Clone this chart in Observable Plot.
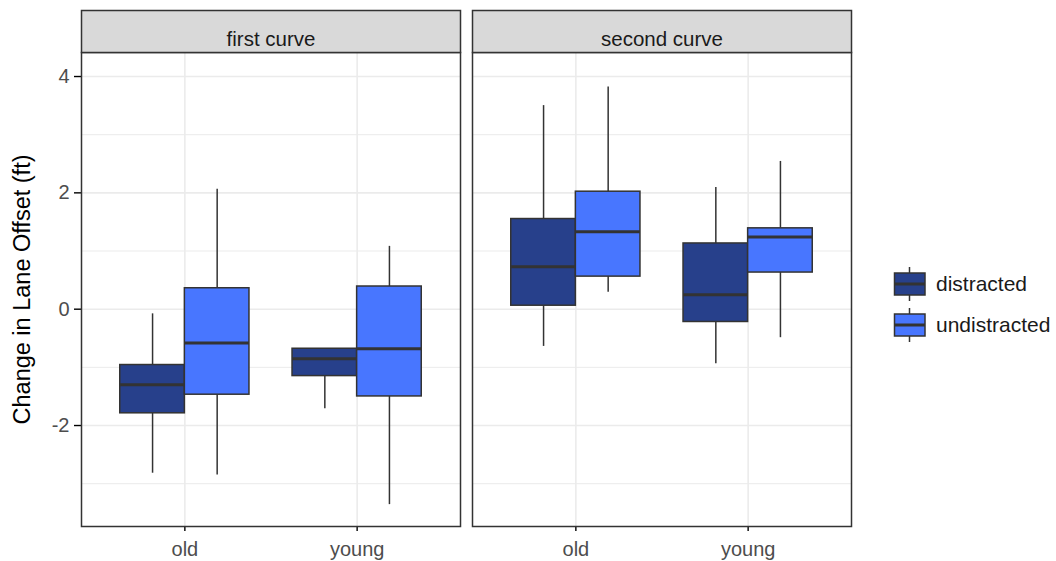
<!DOCTYPE html>
<html><head><meta charset="utf-8">
<script src="https://cdn.jsdelivr.net/npm/d3@7"></script>
<script src="https://cdn.jsdelivr.net/npm/@observablehq/plot@0.6"></script>
<style>
body{margin:0;background:#fff;font-family:"Liberation Sans",Arial,sans-serif;}
#wrap{position:relative;width:1056px;height:561px;overflow:hidden;}
#legend{position:absolute;left:880px;top:255px;}
g[aria-label$="tick label"]{fill:#4d4d4d;}
g[aria-label$="axis tick"]{stroke:#333;stroke-width:1.4;}
</style></head><body><div id="wrap"></div>
<script>
const curves = ["first curve", "second curve"];
const ages = ["old", "young"];
const groups = ["distracted", "undistracted"];
const colors = ["#27408B", "#4876FF"];
const yMajor = [-2, 0, 2, 4];
const yMinor = [-3, -1, 1, 3];
const yTitle = "Change in Lane Offset (ft)";
// order: first curve (old: distracted, undistracted; young: distracted, undistracted), then second curve
const whiskerLow  = [-2.82, -2.85, -1.71, -3.36, -0.64, 0.29, -0.94, -0.49];
const q1          = [-1.79, -1.47, -1.15, -1.50,  0.06, 0.56, -0.22,  0.63];
const median      = [-1.30, -0.58, -0.85, -0.68,  0.73, 1.33,  0.25,  1.24];
const q3          = [-0.96,  0.36, -0.68,  0.39,  1.55, 2.02,  1.13,  1.39];
const whiskerHigh = [-0.08,  2.06, -0.68,  1.08,  3.50, 3.82,  2.09,  2.54];

const dodge = 0.75;
const rows = median.map((m, i) => {
  const ci = i >> 2, ai = (i >> 1) & 1, gi = i & 1;
  const c = ai + 1;
  const x1 = c - dodge / 2 + gi * dodge / 2;
  const x2 = x1 + dodge / 2;
  return {curve: curves[ci], age: ages[ai], group: groups[gi],
    lo: whiskerLow[i], q1: q1[i], med: m, q3: q3[i], hi: whiskerHigh[i],
    x1, x2, xm: (x1 + x2) / 2};
});

const chart = Plot.plot({
  width: 1056, height: 561,
  marginLeft: 80, marginRight: 205, marginTop: 52, marginBottom: 35,
  style: {fontFamily: "Liberation Sans, Arial, sans-serif", fontSize: "20px", background: "#fff", overflow: "visible"},
  fx: {domain: curves, paddingInner: 0.0307, paddingOuter: 0, axis: null, label: null},
  x: {domain: [0.4, 2.6], ticks: [1, 2], tickFormat: d => ages[d - 1], tickSize: 5, tickPadding: 10, label: null},
  y: {domain: [-3.736, 4.413], ticks: yMajor, tickFormat: d => String(d), tickSize: 7, tickPadding: 5, label: null},
  color: {domain: groups, range: colors},
  marks: [
    Plot.ruleY(yMinor, {stroke: "#ebebeb", strokeWidth: 1}),
    Plot.ruleY(yMajor, {stroke: "#ebebeb", strokeWidth: 1.6}),
    Plot.ruleX([1, 2], {stroke: "#ebebeb", strokeWidth: 1.6}),
    Plot.ruleX(rows, {fx: "curve", x: "xm", y1: "q3", y2: "hi", stroke: "#333", strokeWidth: 1.5}),
    Plot.ruleX(rows, {fx: "curve", x: "xm", y1: "lo", y2: "q1", stroke: "#333", strokeWidth: 1.5}),
    Plot.rect(rows, {fx: "curve", x1: "x1", x2: "x2", y1: "q1", y2: "q3", fill: "group", stroke: "#333", strokeWidth: 1.5}),
    Plot.ruleY(rows, {fx: "curve", y: "med", x1: "x1", x2: "x2", stroke: "#333", strokeWidth: 3}),
    Plot.frame({stroke: "#333", strokeWidth: 1.5}),
    Plot.frame({fill: "#d9d9d9", stroke: "#333", strokeWidth: 1.5, insetTop: -42, insetBottom: 474}),
    Plot.text(curves, {fx: d => d, text: d => d, frameAnchor: "top", dy: -21, fontSize: 20.5, fill: "#1a1a1a"}),
    Plot.text([yTitle], {fx: () => curves[0], text: d => d, frameAnchor: "left", textAnchor: "middle", rotate: -90, dx: -59, fontSize: 23.5, fill: "#000"})
  ]
});
const wrap = document.getElementById("wrap");
wrap.appendChild(chart);

// legend
const lg = d3.select(wrap).append("svg").attr("id", "legend").attr("width", 176).attr("height", 100);
groups.forEach((g, i) => {
  const cy = 29 + i * 41;
  const k = lg.append("g");
  k.append("line").attr("x1", 29.5).attr("x2", 29.5).attr("y1", cy - 17).attr("y2", cy + 17).attr("stroke", "#333").attr("stroke-width", 1.5);
  k.append("rect").attr("x", 14.5).attr("y", cy - 11).attr("width", 30.5).attr("height", 22).attr("fill", colors[i]).attr("stroke", "#333").attr("stroke-width", 1.5);
  k.append("line").attr("x1", 14.5).attr("x2", 45).attr("y1", cy).attr("y2", cy).attr("stroke", "#333").attr("stroke-width", 3);
  k.append("text").attr("x", 56).attr("y", cy).attr("dy", "0.35em").attr("font-size", 21).attr("fill", "#1a1a1a").attr("font-family", "Liberation Sans, Arial, sans-serif").text(g);
});
</script></body></html>
